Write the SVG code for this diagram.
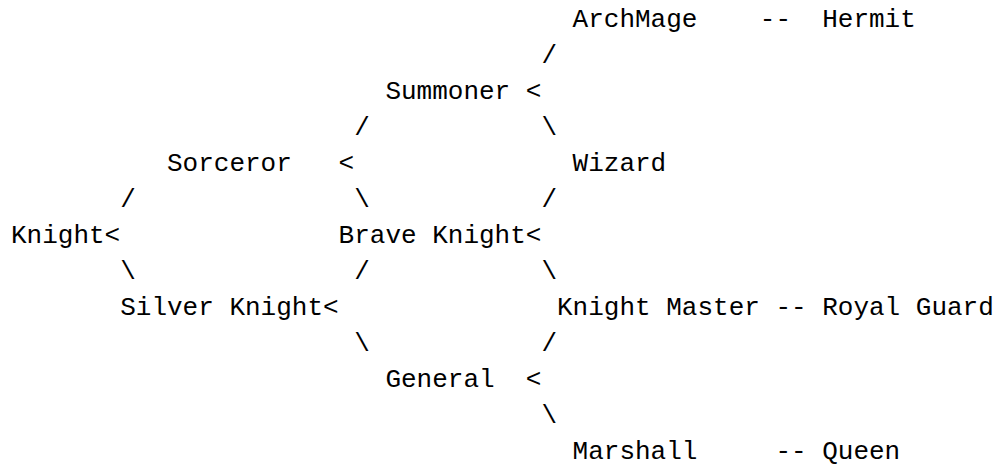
<svg xmlns="http://www.w3.org/2000/svg" width="1000" height="468" viewBox="0 0 1000 468">
  <style>
    text { font-family: "Liberation Mono", "Courier New", monospace; font-size: 26px; fill: #000; white-space: pre; }
  </style>
  <rect width="1000" height="468" fill="#fff"/>
  <!-- monospace grid: column width 15.6px from x=11, rows 36px apart from baseline 27 -->
  <g id="connectors">
    <text x="104.6" y="243">&lt;</text>
    <text x="338.6" y="171">&lt;</text>
    <text x="323" y="315">&lt;</text>
    <text x="525.8" y="99">&lt;</text>
    <text x="525.8" y="243">&lt;</text>
    <text x="525.8" y="387">&lt;</text>
    <text x="541.4" y="63">/</text>
    <text x="354.2" y="135">/</text>
    <text x="120.2" y="207">/</text>
    <text x="541.4" y="207">/</text>
    <text x="354.2" y="279">/</text>
    <text x="541.4" y="351">/</text>
    <text x="541.4" y="135">\</text>
    <text x="354.2" y="207">\</text>
    <text x="120.2" y="279">\</text>
    <text x="541.4" y="279">\</text>
    <text x="354.2" y="351">\</text>
    <text x="541.4" y="423">\</text>
    <text x="759.8" y="27">--</text>
    <text x="775.4" y="315">--</text>
    <text x="775.4" y="459">--</text>
  </g>
  <g id="knight"><text x="11" y="243">Knight</text></g>
  <g id="sorceror"><text x="167" y="171">Sorceror</text></g>
  <g id="silver-knight"><text x="120.2" y="315">Silver Knight</text></g>
  <g id="summoner"><text x="385.4" y="99">Summoner</text></g>
  <g id="brave-knight"><text x="338.6" y="243">Brave Knight</text></g>
  <g id="general"><text x="385.4" y="387">General</text></g>
  <g id="archmage"><text x="572.6" y="27">ArchMage</text></g>
  <g id="wizard"><text x="572.6" y="171">Wizard</text></g>
  <g id="knight-master"><text x="557" y="315">Knight Master</text></g>
  <g id="marshall"><text x="572.6" y="459">Marshall</text></g>
  <g id="hermit"><text x="822.2" y="27">Hermit</text></g>
  <g id="royal-guard"><text x="822.2" y="315">Royal Guard</text></g>
  <g id="queen"><text x="822.2" y="459">Queen</text></g>
</svg>
